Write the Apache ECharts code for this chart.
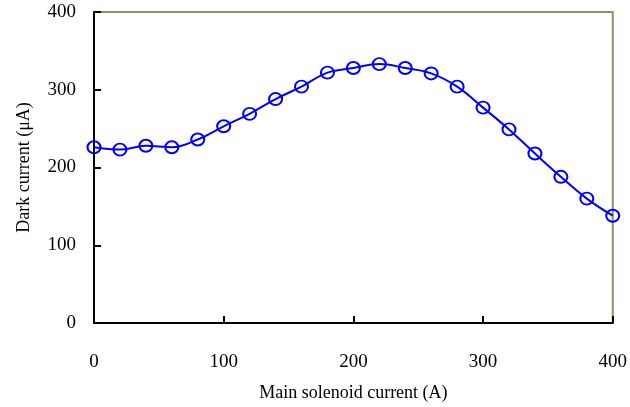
<!DOCTYPE html>
<html><head><meta charset="utf-8">
<script src="https://cdn.jsdelivr.net/npm/echarts@6/dist/echarts.min.js"></script>
<style>html,body{margin:0;padding:0;background:#fff}#c{width:630px;height:407px}</style>
</head><body><div id="c"></div>
<script>
const solenoidCurrent = [0,20,40,60,80,100,120,140,160,180,200,220,240,260,280,300,320,340,360,380,400];
const darkCurrent = [226,223,228,226,236,253,269,288,304,322,328,333,328,321,304,277,249,218,188,160,138];
const xTicks = [0,100,200,300,400];
const yTicks = [0,100,200,300,400];

const font = 'Liberation Serif';
const chart = echarts.init(document.getElementById('c'));
chart.setOption({
  backgroundColor: '#fff',
  animation: false,
  grid: {left: 94, right: 17, top: 12, bottom: 80, show: true, borderColor: '#968c6c', borderWidth: 2, backgroundColor: 'transparent'},
  xAxis: {
    type: 'value', min: xTicks[0], max: xTicks[xTicks.length-1], interval: 100,
    name: 'Main solenoid current (A)', nameLocation: 'middle', nameGap: 61,
    nameTextStyle: {fontFamily: font, fontSize: 18, color: '#000'},
    axisLine: {lineStyle: {color: '#000', width: 2}},
    axisTick: {inside: true, length: 7, lineStyle: {color: '#000', width: 2}},
    axisLabel: {fontFamily: font, fontSize: 19, color: '#000', margin: 30},
    splitLine: {show: false}
  },
  yAxis: {
    type: 'value', min: yTicks[0], max: yTicks[yTicks.length-1], interval: 100,
    name: 'Dark current (μA)', nameLocation: 'middle', nameGap: 61,
    nameTextStyle: {fontFamily: font, fontSize: 18, color: '#000'},
    axisLine: {lineStyle: {color: '#000', width: 2}},
    axisTick: {inside: true, length: 7, lineStyle: {color: '#000', width: 2}},
    axisLabel: {fontFamily: font, fontSize: 19, color: '#000', margin: 18, padding: [6, 0, 0, 0]},
    splitLine: {show: false}
  },
  series: [{
    type: 'line', smooth: 0.4,
    data: solenoidCurrent.map((x,i)=>[x, darkCurrent[i]]),
    symbol: 'circle', symbolSize: [13, 12],
    lineStyle: {color: '#0000ff', width: 2},
    itemStyle: {color: 'rgba(255,255,255,0)', borderColor: '#0000ff', borderWidth: 2},
    clip: false
  }]
});
</script></body></html>
